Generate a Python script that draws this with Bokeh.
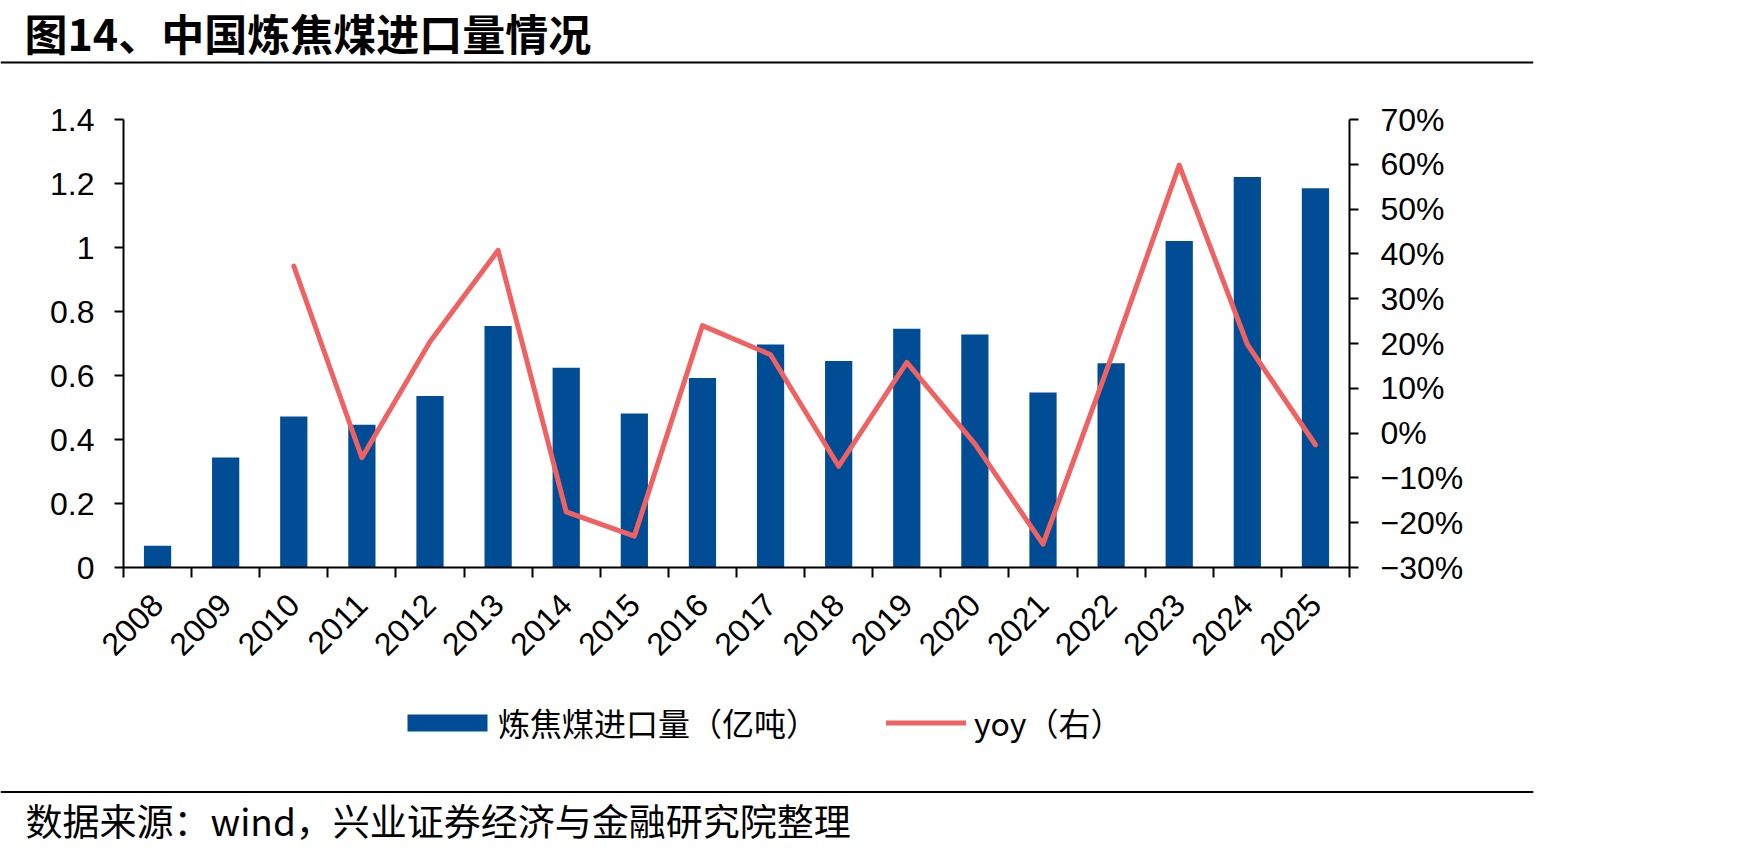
import math

from bokeh.plotting import figure
from bokeh.layouts import column
from bokeh.core.properties import value
from bokeh.models import (Range1d, LinearAxis, FixedTicker, CustomJSTickFormatter,
                          Legend, LegendItem, Span, ColumnDataSource)
from bokeh.embed import file_html
from bokeh.resources import INLINE

# ---- data -------------------------------------------------------------
years = [str(y) for y in range(2008, 2026)]
imports = [0.068, 0.344, 0.472, 0.446, 0.536, 0.755, 0.624, 0.481, 0.592,
           0.697, 0.645, 0.746, 0.728, 0.547, 0.638, 1.020, 1.220, 1.185]   # 亿吨
yoy = [None, None, 37.3, -5.5, 20.4, 40.8, -17.6, -23.0, 24.0,
       17.5, -7.4, 15.8, -2.4, -24.8, 16.8, 59.8, 19.8, -2.6]             # %
left_ticks = [0, 0.2, 0.4, 0.6, 0.8, 1.0, 1.2, 1.4]
right_ticks = [-30, -20, -10, 0, 10, 20, 30, 40, 50, 60, 70]

title_text = "图14、中国炼焦煤进口量情况"
source_text = "数据来源：wind，兴业证券经济与金融研究院整理"
bar_label = "炼焦煤进口量（亿吨）"
line_label = "yoy（右）"

# ---- page geometry (px) ------------------------------------------------
W = 1748
HEAD_H, MAIN_H, FOOT_H = 70, 630, 152
RULE_W = 1533                               # width of the two horizontal rules
FL, FR = 123, 1349                          # chart frame left / right
FT, FB = 119, 567                           # chart frame top / bottom (page px)

BAR = "#004D96"
RED = "#F06262"
CJK = "Noto Sans CJK SC"
CJK_KEY = "Noto Sans CJK TC"
LAT = "Liberation Sans"


def bare(fig):
    fig.outline_line_color = None
    fig.xgrid.visible = False
    fig.ygrid.visible = False
    fig.xaxis.visible = False
    fig.yaxis.visible = False
    fig.background_fill_color = "white"
    fig.border_fill_color = "white"


# ---- header: title and rule ---------------------------------------------
head = figure(width=W, height=HEAD_H, output_backend="svg", toolbar_location=None,
              x_range=Range1d(0, RULE_W), y_range=Range1d(HEAD_H, 0),
              min_border_left=0, min_border_right=W - RULE_W,
              min_border_top=0, min_border_bottom=0, frame_align=False)
bare(head)
head.text(x=[24], y=[31], text=[title_text], text_font=value(CJK),
          text_font_size=value("43px"), text_font_style="bold",
          text_color="black", text_baseline="middle")
head.add_layout(Span(location=62, dimension="width", line_color="black", line_width=2))

# ---- main chart -----------------------------------------------------------
xs = [i + 0.5 for i in range(len(years))]
src = ColumnDataSource(dict(
    x=xs, imports=imports,
    yoy=[float("nan") if v is None else v for v in yoy],
))

p = figure(width=W, height=MAIN_H, output_backend="svg", toolbar_location=None,
           x_range=Range1d(0, len(years)), y_range=Range1d(0, 1.4),
           min_border_left=FL, min_border_right=W - FR,
           min_border_top=FT - HEAD_H, min_border_bottom=HEAD_H + MAIN_H - FB,
           frame_align=False)
p.extra_y_ranges = {"yoy": Range1d(-30, 70)}
p.outline_line_color = None
p.xgrid.visible = False
p.ygrid.visible = False
p.background_fill_color = "white"
p.border_fill_color = "white"

p.vbar(x="x", top="imports", width=0.4, source=src, fill_color=BAR, line_color=None)
p.line(x="x", y="yoy", source=src, y_range_name="yoy",
       line_color=RED, line_width=5, line_cap="round", line_join="round")


def style_axis(ax):
    ax.axis_line_color = "black"
    ax.axis_line_width = 2
    ax.major_tick_line_color = "black"
    ax.major_tick_line_width = 2
    ax.major_tick_in = 0
    ax.major_tick_out = 9
    ax.minor_tick_line_color = None
    ax.major_label_text_font = LAT
    ax.major_label_text_font_size = "32px"
    ax.major_label_text_color = "black"


ly = p.yaxis[0]
style_axis(ly)
ly.ticker = FixedTicker(ticks=left_ticks)
ly.formatter = CustomJSTickFormatter(code="return String(parseFloat(tick.toFixed(1)));")
ly.major_label_standoff = 20

ry = LinearAxis(y_range_name="yoy",
                ticker=FixedTicker(ticks=right_ticks),
                formatter=CustomJSTickFormatter(
                    code="return (tick < 0 ? '\u2212' + (-tick) : String(tick)) + '%';"))
style_axis(ry)
ry.major_label_standoff = 22
p.add_layout(ry, "right")

# year labels sit at category centres, tick marks at category boundaries
bx = p.xaxis[0]
style_axis(bx)
bx.ticker = FixedTicker(ticks=xs, minor_ticks=list(range(len(years) + 1)))
bx.formatter = CustomJSTickFormatter(args=dict(years=years),
                                     code="return years[Math.floor(tick)];")
bx.major_tick_out = 0
bx.minor_tick_line_color = "black"
bx.minor_tick_line_width = 2
bx.minor_tick_in = 0
bx.minor_tick_out = 10
bx.major_label_orientation = math.pi / 4
bx.major_label_standoff = 22

# ---- footer: legend, rule and source note --------------------------------
TOP = HEAD_H + MAIN_H
foot = figure(width=W, height=FOOT_H, output_backend="svg", toolbar_location=None,
              x_range=Range1d(0, RULE_W), y_range=Range1d(TOP + FOOT_H, TOP),
              min_border_left=0, min_border_right=W - RULE_W,
              min_border_top=0, min_border_bottom=0, frame_align=False)
bare(foot)
# legend keys: same styling as the chart glyphs, parked outside the visible range
key_bar = foot.vbar(x=[-50], top=[TOP + FOOT_H], bottom=[TOP + FOOT_H], width=1,
                    fill_color=BAR, line_color=None)
key_line = foot.line(x=[-60, -50], y=[800, 800], line_color=RED, line_width=5,
                     line_cap="round")

legend_style = dict(orientation="horizontal", padding=0, margin=0,
                    border_line_color=None, background_fill_alpha=0,
                    label_text_font=CJK_KEY, label_text_font_size="32px",
                    label_text_color="black")
# the bar key is inset by 10% of its box, so the box is sized 100 x 21
foot.add_layout(Legend(items=[LegendItem(label=bar_label, renderers=[key_bar])],
                       location=(397, 107), glyph_width=100, glyph_height=21,
                       label_standoff=1, **legend_style), "center")
foot.add_layout(Legend(items=[LegendItem(label=line_label, renderers=[key_line])],
                       location=(886, 107), glyph_width=80, glyph_height=21,
                       label_standoff=8, **legend_style), "center")

foot.add_layout(Span(location=791.5, dimension="width", line_color="black", line_width=2))
foot.text(x=[25], y=[819], text=[source_text], text_font=value(CJK),
          text_font_size=value("37px"), text_color="black", text_baseline="middle")

layout = column(head, p, foot, spacing=0)

with open("out.html", "w", encoding="utf-8") as f:
    f.write(file_html(layout, INLINE))
